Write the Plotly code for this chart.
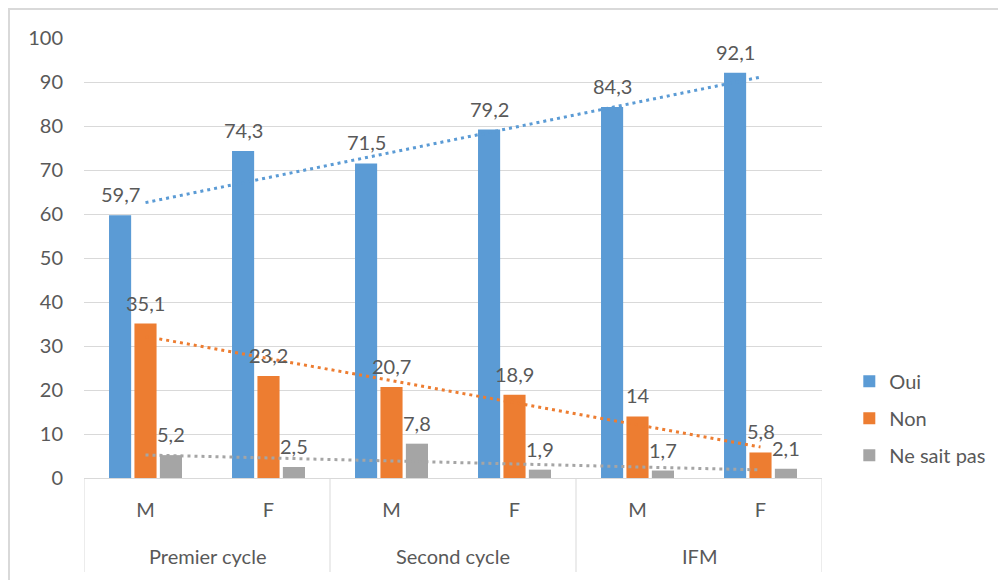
import numpy as np
import plotly.graph_objects as go

groups = ["Premier cycle", "Premier cycle", "Second cycle", "Second cycle", "IFM", "IFM"]
sexes = ["M", "F", "M", "F", "M", "F"]
series_names = ["Oui", "Non", "Ne sait pas"]
oui = [59.7, 74.3, 71.5, 79.2, 84.3, 92.1]
non = [35.1, 23.2, 20.7, 18.9, 14.0, 5.8]
nsp = [5.2, 2.5, 7.8, 1.9, 1.7, 2.1]
colors = ["#5B9BD5", "#ED7D31", "#A5A5A5"]
y_ticks = [0, 10, 20, 30, 40, 50, 60, 70, 80, 90, 100]

FONT = "Lato"
GREY = "#595959"
LINE = "#D9D9D9"
FS = 20
BARGAP = 0.38
BARGROUPGAP = 0.13

def fmt(v):
    return f"{v:g}".replace(".", ",")

fig = go.Figure()
xi = np.arange(len(sexes))
all_series = [oui, non, nsp]
for name, vals, col in zip(series_names, all_series, colors):
    fig.add_trace(go.Bar(
        x=xi, y=vals, name=name, marker=dict(color=col, line=dict(width=0)),
        legendgroup=name, hoverinfo="x+y",
    ))

# linear trendlines (least squares, like Excel)
for name, vals, col in zip(series_names, all_series, colors):
    a, b = np.polyfit(xi, vals, 1)
    fig.add_trace(go.Scatter(
        x=xi, y=a * xi + b, mode="lines", showlegend=False, hoverinfo="skip",
        line=dict(color=col, width=3, dash="3px,4px"),
    ))

annotations = []
# data labels above each bar (bar offsets follow the grouped-bar layout)
n = len(all_series)
slot = (1 - BARGAP) / n
for k, vals in enumerate(all_series):
    off = (k - (n - 1) / 2) * slot
    for i, v in enumerate(vals):
        annotations.append(dict(
            x=xi[i] + off, y=v, xref="x", yref="y", text=fmt(v), showarrow=False,
            yanchor="bottom", xanchor="center", yshift=7,
            font=dict(family=FONT, size=FS, color=GREY)))

# group labels and dividers of the two-level category axis
group_names = list(dict.fromkeys(groups))
shapes = []
bounds = []
for g in group_names:
    members = [i for i, gg in enumerate(groups) if gg == g]
    annotations.append(dict(
        x=float(np.mean(members)), y=(478 - 556) / 440, xref="x", yref="paper",
        text=g, showarrow=False, yanchor="middle", xanchor="center",
        font=dict(family=FONT, size=FS, color=GREY)))
    bounds += [min(members) - 0.5, max(members) + 0.5]
for bnd in sorted(set(bounds)):
    shapes.append(dict(type="line", xref="x", yref="paper", x0=bnd, x1=bnd,
                       y0=0, y1=(478 - 572) / 440, line=dict(color=LINE, width=1)))

W, H = 998, 572
L, T = 76, 30
shapes.append(dict(type="rect", xref="paper", yref="paper",
                   x0=(1 - L) / 738, x1=1.6, y0=-0.6, y1=(440 + T - 1) / 440,
                   line=dict(color=LINE, width=2), fillcolor="rgba(0,0,0,0)", layer="below"))

fig.update_layout(
    width=W, height=H,
    margin=dict(l=L, r=184, t=T, b=102),
    paper_bgcolor="white", plot_bgcolor="white",
    barmode="group", bargap=BARGAP, bargroupgap=BARGROUPGAP,
    font=dict(family=FONT, size=FS, color=GREY),
    showlegend=True,
    legend=dict(x=1.037, y=0.136, xanchor="left", yanchor="middle",
                font=dict(family=FONT, size=FS, color=GREY),
                tracegroupgap=8, itemwidth=30),
    xaxis=dict(range=[-0.5, len(sexes) - 0.5], tickvals=xi, ticktext=sexes,
               showline=True, linecolor=LINE, linewidth=1, zeroline=False,
               showgrid=False, ticks="", ticklabelstandoff=14,
               tickfont=dict(family=FONT, size=FS, color=GREY)),
    yaxis=dict(range=[0, 100], tickvals=y_ticks, showgrid=True, gridcolor=LINE,
               gridwidth=1, zeroline=False, showline=False, ticks="",
               tickfont=dict(family=FONT, size=FS, color=GREY), ticklabelstandoff=20),
    annotations=annotations,
    shapes=shapes,
)
fig.write_html("out.html")
